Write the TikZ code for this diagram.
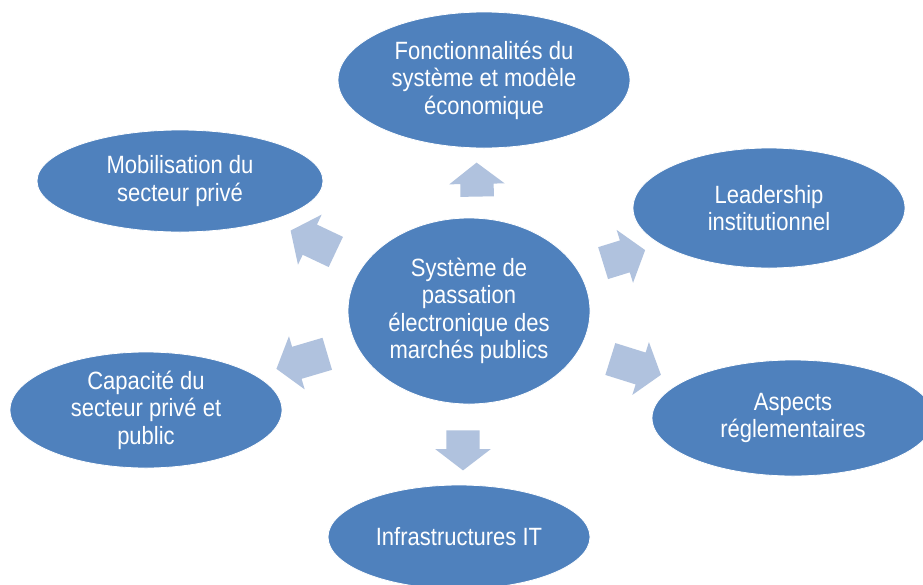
\documentclass[tikz,border=0pt]{standalone}
\usepackage{fontspec}
\setmainfont{Liberation Sans}[FakeStretch=0.88]
\usetikzlibrary{shapes.geometric,shapes.arrows}
\definecolor{ovalblue}{HTML}{4F81BD}
\definecolor{arrowblue}{HTML}{B0C2DE}
\begin{document}
\begin{tikzpicture}[x=1pt,y=-1pt,
  oval/.style={ellipse, fill=ovalblue, draw=white, line width=0.8pt,
    inner sep=0pt, text=white, align=center,
    font=\fontsize{25}{27.5}\selectfont},
  blockarrow/.style={single arrow, fill=arrowblue, draw=none,
    inner xsep=0pt, inner ysep=16.5pt, single arrow head extend=11pt,
    single arrow tip angle=105}]
  \clip (0,0) rectangle (923,584);
  \fill[white] (0,0) rectangle (923,584);

  % central topic and the six surrounding themes
  \node[oval, minimum width=242pt, minimum height=186pt] (core) at (469,311)
    {Système de\\passation\\électronique des\\marchés publics};
  \node[oval, minimum width=292pt, minimum height=136pt] (fonc) at (484,80)
    {Fonctionnalités du\\système et modèle\\économique};
  \node[oval, minimum width=286pt, minimum height=102pt] (mobil) at (180,181)
    {Mobilisation du\\secteur privé};
  \node[oval, minimum width=272pt, minimum height=120pt] (lead) at (769,208)
    {Leadership\\institutionnel};
  \node[oval, minimum width=282pt, minimum height=116pt] (regl) at (793,418)
    {Aspects\\réglementaires};
  \node[oval, minimum width=272pt, minimum height=116pt] (capa) at (146,410)
    {Capacité du\\secteur privé et\\public};
  \node[oval, minimum width=262pt, minimum height=104pt] (infra) at (459,537)
    {Infrastructures IT};

  % block arrows radiating from the centre
  \node[blockarrow, minimum height=34pt, rotate=91] (a-fonc) at (477,186) {};
  \node[blockarrow, minimum height=40pt, rotate=-90] (a-infra) at (463,444) {};
  \node[blockarrow, minimum height=50pt, rotate=154.7] (a-mobil) at (319,244) {};
  \node[blockarrow, minimum height=44pt, rotate=17.2] (a-lead) at (618,258.5) {};
  \node[blockarrow, minimum height=53pt, rotate=196.5] (a-capa) at (308,359.5) {};
  \node[blockarrow, minimum height=53pt, rotate=-17.4] (a-regl) at (629.5,365) {};
\end{tikzpicture}
\end{document}
